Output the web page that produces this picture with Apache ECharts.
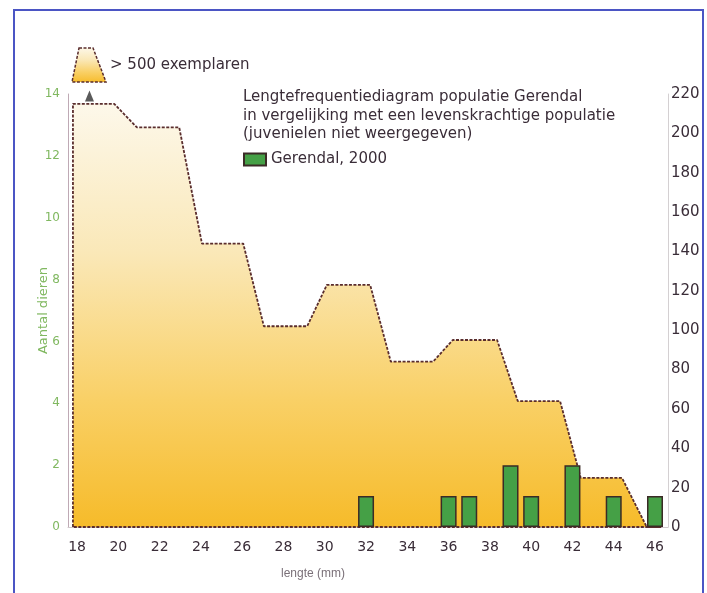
<!DOCTYPE html>
<html>
<head>
<meta charset="utf-8">
<title>Lengtefrequentiediagram Gerendal</title>
<script src="https://cdn.jsdelivr.net/npm/echarts@6/dist/echarts.min.js"></script>
<style>
  html, body { margin: 0; padding: 0; background: #ffffff; }
  #chart { width: 707px; height: 593px; }
</style>
</head>
<body>
<div id="chart"></div>
<script>
  // lengteklassen (mm) op de x-as
  var lengthTicks = [18, 20, 22, 24, 26, 28, 30, 32, 34, 36, 38, 40, 42, 44, 46];

  // Gerendal, 2000 - aantal dieren per lengte
  var gerendalLengths = [32, 36, 37, 39, 40, 42, 44, 46];
  var gerendalCounts = [1, 1, 1, 2, 1, 2, 1, 1];

  // levenskrachtige populatie (rechter as), omtrek van het vlak
  var popLengths = [17.8, 17.8, 19.8, 20.9, 22.95, 24.05, 26.05, 27.05, 29.15, 30.1, 32.2, 33.2, 35.25, 36.2, 38.35, 39.35, 41.4, 42.4, 44.4, 45.6, 46.3, 17.8];
  var popCounts = [0, 215, 215, 203, 203, 144, 144, 102, 102, 123, 123, 84, 84, 95, 95, 64, 64, 25, 25, 0, 0, 0];

  var leftTicks = { min: 0, max: 14, step: 2 };
  var rightTicks = { min: 0, max: 220, step: 20 };

  var areaGradient = function () {
    return new echarts.graphic.LinearGradient(0, 0, 0, 1, [
      { offset: 0, color: '#fdf8ea' },
      { offset: 0.35, color: '#fae8b8' },
      { offset: 0.7, color: '#f9d066' },
      { offset: 1, color: '#f6bb2a' }
    ]);
  };

  var popData = popLengths.map(function (x, i) { return [x, popCounts[i]]; });
  var barData = gerendalLengths.map(function (x, i) { return [x, gerendalCounts[i]]; });

  var darkText = '#3a2d38';
  var green = '#80b860';
  var wide = 'DejaVu Sans, Verdana, sans-serif';

  var option = {
    backgroundColor: '#ffffff',
    animation: false,
    textStyle: { fontFamily: 'Liberation Sans, Arial, sans-serif' },
    title: {
      text: 'Lengtefrequentiediagram populatie Gerendal\nin vergelijking met een levenskrachtige populatie\n(juvenielen niet weergegeven)',
      left: 238,
      top: 83,
      textStyle: {
        fontFamily: wide,
        fontSize: 15,
        fontWeight: 'normal',
        lineHeight: 18.5,
        color: darkText
      }
    },
    legend: {
      data: ['Gerendal, 2000'],
      left: 238,
      top: 147,
      icon: 'rect',
      itemWidth: 22,
      itemHeight: 12,
      itemGap: 10,
      textStyle: { fontFamily: wide, fontSize: 15, color: darkText }
    },
    grid: {
      left: 68,
      right: 39,
      top: 94,
      bottom: 66,
      containLabel: false
    },
    xAxis: {
      type: 'value',
      min: 17.56,
      max: 46.63,
      offset: 5,
      axisLine: { lineStyle: { color: '#cfc8cc', width: 1 } },
      axisTick: { show: false },
      splitLine: { show: false },
      axisLabel: {
        customValues: lengthTicks,
        fontFamily: wide,
        fontSize: 14,
        color: darkText,
        margin: 8
      }
    },
    yAxis: [{
      type: 'value',
      position: 'left',
      min: leftTicks.min,
      max: leftTicks.max,
      interval: leftTicks.step,
      name: 'Aantal dieren',
      nameLocation: 'middle',
      nameGap: 18,
      nameMoveOverlap: false,
      nameTextStyle: { color: green, fontSize: 13, fontFamily: wide },
      axisLine: { show: true, lineStyle: { color: '#bfaab5', width: 1 } },
      axisTick: { show: false },
      splitLine: { show: false },
      axisLabel: { color: green, fontSize: 12, fontFamily: wide, margin: 8 }
    }, {
      type: 'value',
      position: 'right',
      min: rightTicks.min,
      max: rightTicks.max,
      interval: rightTicks.step,
      axisLine: { show: true, lineStyle: { color: '#d4d0d2', width: 1 } },
      axisTick: { show: false },
      splitLine: { show: false },
      axisLabel: { color: darkText, fontSize: 15, fontFamily: wide, margin: 3 }
    }],
    series: [{
      name: 'populatie',
      type: 'line',
      xAxisIndex: 0,
      yAxisIndex: 1,
      data: popData,
      symbol: 'none',
      z: 1,
      lineStyle: { color: '#5a2d2d', width: 1.8, type: [3, 1.5] },
      areaStyle: { color: areaGradient(), opacity: 1 },
      markPoint: {
        symbol: 'triangle',
        symbolSize: [9, 11],
        silent: true,
        label: { show: false },
        itemStyle: { color: '#5a5a5a' },
        data: [{ coord: [18.6, 219] }]
      }
    }, {
      name: 'Gerendal, 2000',
      type: 'bar',
      xAxisIndex: 0,
      yAxisIndex: 0,
      data: barData,
      barWidth: 16,
      z: 3,
      itemStyle: {
        color: '#45a046',
        borderColor: '#3b2b26',
        borderWidth: 1.5
      }
    }],
    graphic: [{
      type: 'rect',
      shape: { x: 14, y: 10, width: 689, height: 620 },
      style: { fill: 'none', stroke: '#4b55c4', lineWidth: 2 },
      silent: true
    }, {
      type: 'polygon',
      shape: { points: [[79, 48], [93, 48], [106, 82], [72, 82]] },
      style: {
        fill: areaGradient(),
        stroke: '#5a2d2d',
        lineWidth: 1.5,
        lineDash: [3, 1.5]
      },
      silent: true
    }, {
      type: 'text',
      x: 110,
      y: 65,
      style: {
        text: '> 500 exemplaren',
        fontSize: 15,
        fill: darkText,
        verticalAlign: 'middle',
        fontFamily: wide
      },
      silent: true
    }, {
      type: 'text',
      x: 313,
      y: 574,
      style: {
        text: 'lengte (mm)',
        fontSize: 12,
        fill: '#7a7078',
        align: 'center',
        verticalAlign: 'middle',
        fontFamily: 'Liberation Sans, Arial, sans-serif'
      },
      silent: true
    }]
  };

  var myChart = echarts.init(document.getElementById('chart'));
  myChart.setOption(option);
</script>
</body>
</html>
